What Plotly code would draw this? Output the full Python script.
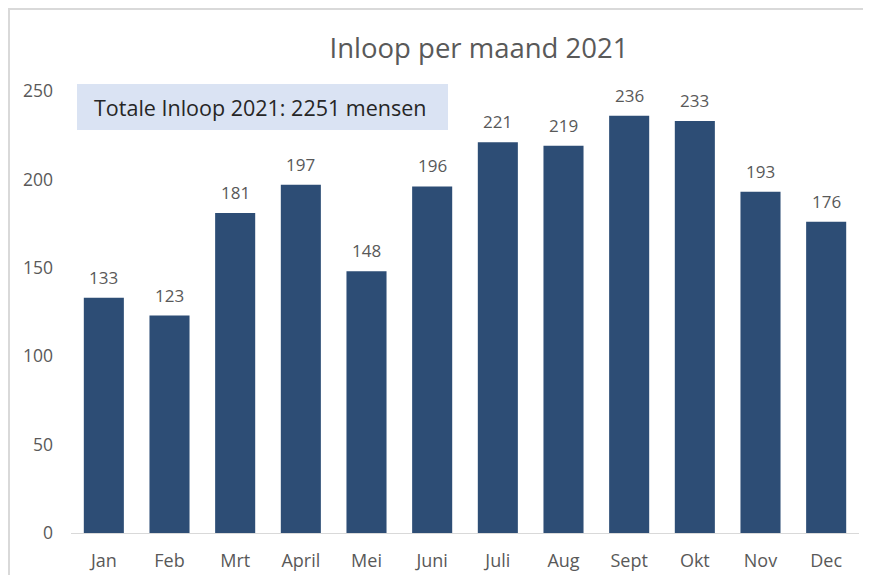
import plotly.graph_objects as go

months = ["Jan", "Feb", "Mrt", "April", "Mei", "Juni", "Juli", "Aug", "Sept", "Okt", "Nov", "Dec"]
inloop = [133, 123, 181, 197, 148, 196, 221, 219, 236, 233, 193, 176]
title_text = "Inloop per maand 2021"
box_text = "Totale Inloop 2021: 2251 mensen"
y_ticks = [0, 50, 100, 150, 200, 250]

OFF = 8  # page body margin
W, H = 871 - OFF, 575 - OFF
# plot area in page coords: x 71..859, y 91..533
L = 71 - OFF
T = 91 - OFF
R = W - (859 - OFF)
B = H - (533 - OFF)
pw = W - L - R
ph = H - T - B


def px(x):
    return (x - OFF - L) / pw


def py(y):
    return (H - B - (y - OFF)) / ph


FONT = "Open Sans"
GREY = "#595959"

fig = go.Figure()
fig.add_trace(go.Bar(
    x=months, y=inloop,
    marker=dict(color="#2d4d75", line=dict(width=0)),
))

label_annotations = [
    dict(x=m, y=v, xref="x", yref="y", text=str(v), showarrow=False,
         xanchor="center", yanchor="bottom", yshift=7,
         font=dict(family=FONT, size=17, color=GREY))
    for m, v in zip(months, inloop)
]

fig.update_layout(
    width=W, height=H,
    margin=dict(l=L, r=R, t=T, b=B, autoexpand=False),
    paper_bgcolor="white",
    plot_bgcolor="white",
    showlegend=False,
    bargap=0.39,
    title=dict(text=title_text, x=(479 - OFF) / W, xanchor="center",
               y=1 - (48 - OFF) / H, yanchor="middle", yref="container",
               font=dict(family=FONT, size=27.5, color=GREY), automargin=False),
    xaxis=dict(showgrid=False, showline=True, linecolor="#d9d9d9", linewidth=1,
               ticks="", tickfont=dict(family=FONT, size=18, color=GREY),
               ticklabelstandoff=11, automargin=False),
    yaxis=dict(range=[0, 250], tickvals=y_ticks, showgrid=False, zeroline=False,
               showline=False, ticks="",
               tickfont=dict(family=FONT, size=17.5, color=GREY),
               ticklabelstandoff=17, automargin=False),
    shapes=[
        dict(type="rect", xref="paper", yref="paper",
             x0=px(77), x1=px(448), y0=py(130), y1=py(84),
             fillcolor="#dae3f3", line=dict(width=0), layer="below"),
        dict(type="line", xref="paper", yref="paper",
             x0=px(8), x1=px(880), y0=py(9), y1=py(9),
             line=dict(color="#d9d9d9", width=2)),
        dict(type="line", xref="paper", yref="paper",
             x0=px(9), x1=px(9), y0=py(8), y1=py(590),
             line=dict(color="#d9d9d9", width=2)),
    ],
    annotations=[
        dict(text=box_text, xref="paper", yref="paper",
             x=px(260), y=py(108), xanchor="center", yanchor="middle",
             showarrow=False, font=dict(family=FONT, size=21.5, color="#262626")),
    ] + label_annotations,
)

fig.write_html("out.html")
